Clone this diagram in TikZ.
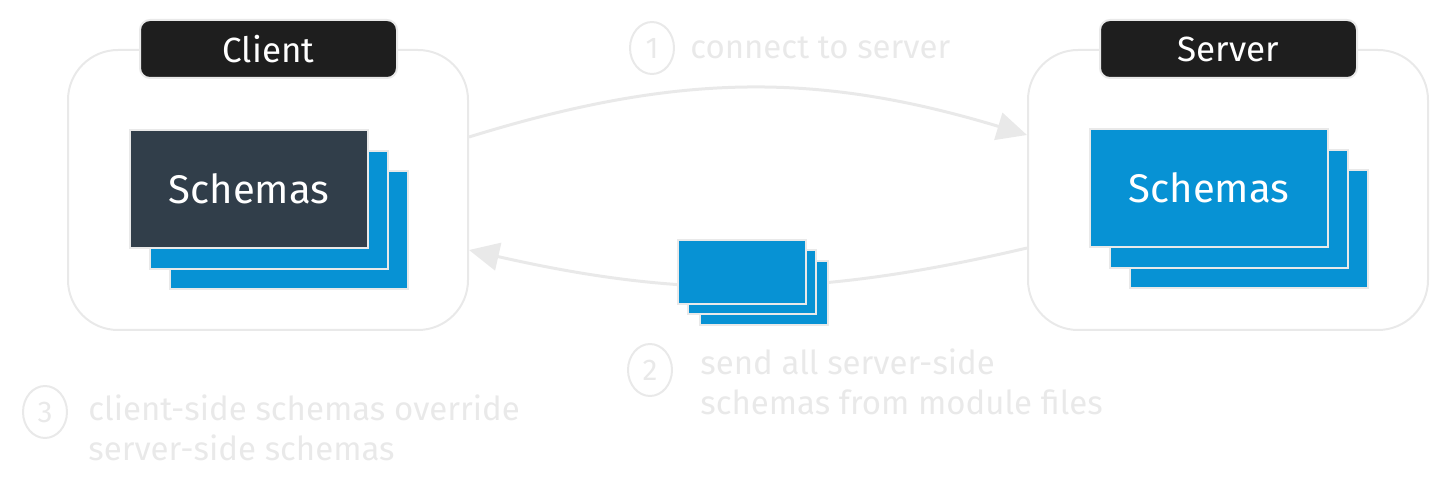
\documentclass[tikz,border=0pt]{standalone}
\usepackage{fontspec}
\setmainfont{Fira Sans}
\usepackage{xcolor}
\usepackage{tikz}
\usetikzlibrary{shapes.geometric, arrows.meta, positioning, backgrounds, calc}

\definecolor{sketchgray}{HTML}{E9E9E9}
\definecolor{schemablue}{HTML}{0792D4}
\definecolor{schemadark}{HTML}{313E4A}
\definecolor{tagblack}{HTML}{1E1E1E}

\tikzset{
  container/.style={draw=sketchgray, line width=1pt, rounded corners=25pt, minimum width=200pt, minimum height=140pt},
  tag/.style={fill=tagblack, draw=sketchgray, line width=1pt, rounded corners=5pt, minimum width=128.5pt, minimum height=29pt, text=white, font=\fontsize{17.5}{20}\selectfont},
  sheet/.style={fill=schemablue, draw=sketchgray, line width=1pt, minimum width=119pt, minimum height=59pt, inner sep=0pt, text=white, font=\fontsize{20}{24}\selectfont},
  minisheet/.style={sheet, minimum width=64pt, minimum height=32pt},
  note/.style={text=sketchgray, font=\fontsize{16.5}{20}\selectfont, align=left, anchor=west, inner sep=0pt},
  stepnum/.style={ellipse, draw=sketchgray, line width=1pt, minimum width=22pt, minimum height=26pt, inner sep=0pt, text=sketchgray, font=\fontsize{15}{15}\selectfont},
  flow/.style={draw=sketchgray, line width=1.5pt, -{Triangle[length=15pt, width=14pt]}},
}

\begin{document}
\begin{tikzpicture}[x=0.5pt, y=-0.5pt]
  \useasboundingbox (0,0) rectangle (1448,486);

  % Containers
  \node[container] (clientbox) at (268,190) {};
  \node[container] (serverbox) at (1228,190) {};
  \node[tag] (clienttag) at (268.5,49) {Client};
  \node[tag] (servertag) at (1228.5,49) {Server};

  % Front sheets
  \node[sheet, fill=schemadark] (cfront) at (249,189) {Schemas};
  \node[sheet] (sfront) at (1209,188) {Schemas};
  \node[minisheet] (mfront) at (742,272) {};

  % Step 1
  \draw[flow] ([yshift=26.5pt]clientbox.east) to[bend left=17] ([yshift=27.5pt]serverbox.west);

  % Back sheets, step 2 arrow below them
  \begin{scope}[on background layer]
    \draw[flow] ([yshift=-29pt]serverbox.west) to[bend left=13] ([yshift=-30pt]clientbox.east);
    \node[sheet] (cback2) at ($(cfront)+(40,41)$) {};
    \node[sheet] (sback2) at ($(sfront)+(40,41)$) {};
    \node[minisheet] (mback2) at ($(mfront)+(22,21)$) {};
    \node[sheet] (cback1) at ($(cfront)+(20,21)$) {};
    \node[sheet] (sback1) at ($(sfront)+(20,21)$) {};
    \node[minisheet] (mback1) at ($(mfront)+(10,10)$) {};
  \end{scope}

  % Notes
  \node[stepnum] (num1) at (652,48) {1};
  \node[note] (note1) at (690,48) {connect to server};
  \node[stepnum] (num2) at (650,370) {2};
  \node[note] (note2) at (700,382) {send all server-side\\schemas from module files};
  \node[stepnum] (num3) at (45,412) {3};
  \node[note] (note3) at (88,428) {client-side schemas override\\server-side schemas};
\end{tikzpicture}
\end{document}
